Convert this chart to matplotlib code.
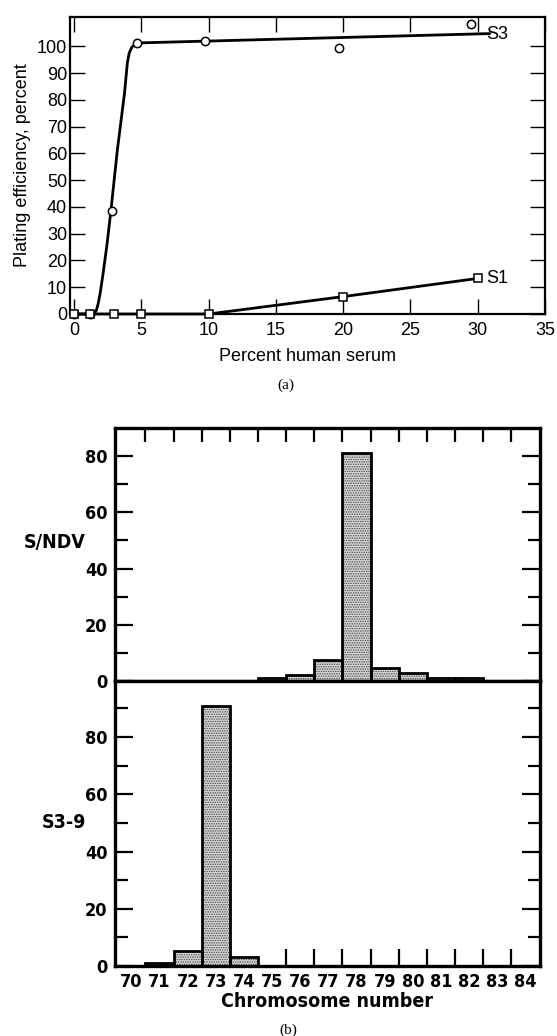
import matplotlib
matplotlib.use("Agg")
import matplotlib.pyplot as plt
import numpy as np

# ---------------- data ----------------
# (a) plating efficiency vs percent human serum
s3_x = [0, 1.2, 2.8, 4.7, 9.7, 19.7, 29.5]
s3_y = [0, 0, 38.6, 101.3, 101.9, 99.4, 108.4]
# hand-drawn fitted curve for S3
s3_fit_x = [0, 1.45, 1.65, 1.8, 1.95, 2.16, 2.45, 2.74, 3.22, 3.75, 3.96, 4.1, 4.3, 4.67, 30.9]
s3_fit_y = [0, 0, 1.2, 4, 8, 15.2, 26, 38.6, 61.3, 82.5, 93.8, 97.5, 99.8, 101.3, 104.8]
s1_x = [0, 1.2, 3, 5, 10, 20, 30]
s1_y = [0, 0, 0, 0, 0, 6.5, 13.3]
a_xticks = [0, 5, 10, 15, 20, 25, 30, 35]
a_yticks = [0, 10, 20, 30, 40, 50, 60, 70, 80, 90, 100]

# (b) chromosome number distributions
chrom_labels = list(range(70, 85))
sndv_chrom = [75, 76, 77, 78, 79, 80, 81, 82]
sndv_pct = [1.0, 2.1, 7.5, 81, 4.5, 2.7, 1.2, 1.2]
s39_chrom = [71, 72, 73, 74]
s39_pct = [1.2, 5.3, 91, 3.0]

W, H = 557, 1036
fig = plt.figure(figsize=(W / 100, H / 100), dpi=100)

def fx(px):
    return px / W

def fy(py):
    return 1 - py / H

sans = ["Liberation Sans", "DejaVu Sans"]
narrow = ["DejaVu Sans"]
serif = ["Liberation Serif", "DejaVu Serif"]
nkw = dict(family=narrow, fontweight="bold", fontstretch="condensed")

# ---------------- (a) ----------------
axa = fig.add_axes([fx(70), fy(314), fx(545) - fx(70), fy(17) - fy(314)])
axa.plot(s3_fit_x, s3_fit_y, color="black", lw=2.0, solid_capstyle="round",
         solid_joinstyle="round", zorder=2, clip_on=False)
axa.plot(s3_x, s3_y, linestyle="none", marker="o", ms=6, mfc="white", mec="black", mew=1.1,
         zorder=3, clip_on=False)
axa.plot(s1_x, s1_y, color="black", lw=2.0, marker="s", ms=6, mfc="white", mec="black", mew=1.1,
         zorder=3, clip_on=False)
axa.set_xlim(-0.3, 35)
axa.set_ylim(0, 111)
axa.set_xticks(a_xticks)
axa.set_yticks(a_yticks)
axa.set_xticklabels([str(v) for v in a_xticks], family=sans, fontsize=13)
axa.set_yticklabels([str(v) for v in a_yticks], family=sans, fontsize=13)
axa.tick_params(axis="both", direction="in", length=11, width=1.0, top=True, right=True)
axa.tick_params(axis="x", pad=6)
axa.tick_params(axis="y", pad=2)
for sp in axa.spines.values():
    sp.set_linewidth(1.6)
axa.set_ylabel("Plating efficiency, percent", family=sans, fontsize=13, labelpad=4)
axa.set_xlabel("Percent human serum", family=sans, fontsize=13, labelpad=6)
axa.text(30.6, 104.5, "S3", family=sans, fontsize=13, va="center", ha="left")
axa.text(30.6, 13.3, "S1", family=sans, fontsize=13, va="center", ha="left")
fig.text(fx(286), fy(385), "(a)", family=serif, fontsize=11, ha="center", va="center")

# ---------------- (b) ----------------
plt.rcParams["hatch.linewidth"] = 0.7
plt.rcParams["hatch.color"] = "#444444"
left, right = fx(114.5), fx(539.5)
ax1 = fig.add_axes([left, fy(681), right - left, fy(428.5) - fy(681)])
ax2 = fig.add_axes([left, fy(966), right - left, fy(681) - fy(966)])

def draw_bars(ax, xs, ys):
    ax.bar(xs, ys, width=1.0, color="#d8d8d8", edgecolor="#444444", hatch=".......", lw=0, zorder=2)
    ax.bar(xs, ys, width=1.0, fill=False, edgecolor="black", lw=2.0, zorder=3)

draw_bars(ax1, sndv_chrom, sndv_pct)
draw_bars(ax2, s39_chrom, s39_pct)

for ax, ymax, ymajor, yminor in [
    (ax1, 89.8, [0, 20, 40, 60, 80], [10, 30, 50, 70]),
    (ax2, 99.6, [0, 20, 40, 60, 80], [10, 30, 50, 70, 90]),
]:
    ax.set_xlim(69.4, 84.5)
    ax.set_ylim(0, ymax)
    ax.set_yticks(ymajor)
    ax.set_yticks(yminor, minor=True)
    ax.set_yticklabels([str(v) for v in ymajor], fontsize=13, **nkw)
    ax.tick_params(axis="y", which="major", direction="in", length=13, width=1.6, left=True,
                   right=True, pad=5)
    ax.tick_params(axis="y", which="minor", direction="in", length=9, width=1.6, left=True,
                   right=True)
    for sp in ax.spines.values():
        sp.set_linewidth(2.4)

# upper: top ticks at bin edges, no x labels
ax1.set_xticks([])
ax1.set_xticks([c + 0.5 for c in chrom_labels[:-1]], minor=True)
ax1.tick_params(axis="x", which="minor", direction="in", length=10, width=1.6, top=True, bottom=False)
ax1.tick_params(axis="x", which="major", bottom=False, top=False, labelbottom=False)

# lower: labels at integers, ticks at bin edges beyond bars
ax2.set_xticks(chrom_labels)
ax2.set_xticklabels([str(c) for c in chrom_labels], fontsize=13, **nkw)
ax2.tick_params(axis="x", which="major", length=0, pad=5)
ax2.set_xticks([c + 0.5 for c in chrom_labels[5:-1]], minor=True)
ax2.tick_params(axis="x", which="minor", direction="in", length=12, width=1.6, top=False, bottom=True)
ax2.set_xlabel("Chromosome number", fontsize=14, labelpad=1, **nkw)

fig.text(fx(55), fy(543), "S/NDV", fontsize=14, ha="center", va="center", **nkw)
fig.text(fx(64), fy(823), "S3-9", fontsize=14, ha="center", va="center", **nkw)
fig.text(fx(288), fy(1030), "(b)", family=serif, fontsize=11, ha="center", va="center")

fig.savefig("out.png", dpi=100, facecolor="white")
